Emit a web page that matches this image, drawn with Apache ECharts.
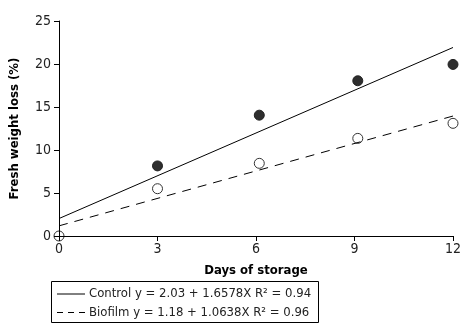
<!DOCTYPE html>
<html>
<head>
<meta charset="utf-8">
<script src="https://cdn.jsdelivr.net/npm/echarts@6/dist/echarts.min.js"></script>
<style>
  html, body { margin: 0; padding: 0; background: #fff; }
  #chart { width: 465px; height: 331px; }
</style>
</head>
<body>
<div id="chart"></div>
<script>
// days of storage
var days = [0, 3, 6.1, 9.1, 12];
// measured points
var controlVals = [null, 8.15, 14.05, 18.05, 19.95];
var biofilmVals = [0, 5.5, 8.45, 11.35, 13.1];
// fitted lines (endpoints at day 0 and 12)
var controlFit = [[0, 2.03], [12, 21.92]];
var biofilmFit = [[0, 1.18], [12, 13.95]];

var controlName = 'Control y = 2.03 + 1.6578X R\u00b2 = 0.94';
var biofilmName = 'Biofilm y = 1.18 + 1.0638X R\u00b2 = 0.96';
var font = '"Liberation Sans Narrow", "DejaVu Sans Condensed", "Liberation Sans", sans-serif';
var ink = '#222';

function pts(vals) {
  var out = [];
  vals.forEach(function (v, i) { if (v !== null) out.push([days[i], v]); });
  return out;
}

var chart = echarts.init(document.getElementById('chart'));
chart.setOption({
  animation: false,
  grid: { left: 52, right: 12, top: 21, bottom: 95 },
  // legend box drawn by hand so the samples are plain lines
  graphic: [
    { type: 'rect', shape: { x: 51.5, y: 281.5, width: 267, height: 41 },
      style: { fill: 'none', stroke: '#000', lineWidth: 1 } },
    { type: 'line', shape: { x1: 57, y1: 294, x2: 85, y2: 294 },
      style: { stroke: '#000', lineWidth: 1 } },
    { type: 'line', shape: { x1: 57, y1: 312.5, x2: 85, y2: 312.5 },
      style: { stroke: '#000', lineWidth: 1, lineDash: [6, 5] } },
    { type: 'text', x: 89, y: 294,
      style: { text: controlName, font: '13px ' + font, fill: ink, textVerticalAlign: 'middle', verticalAlign: 'middle' } },
    { type: 'text', x: 89, y: 312.5,
      style: { text: biofilmName, font: '13px ' + font, fill: ink, textVerticalAlign: 'middle', verticalAlign: 'middle' } }
  ],
  xAxis: {
    type: 'value', min: 0, max: 12, interval: 3, z: 5,
    name: 'Days of storage', nameLocation: 'middle', nameGap: 28,
    nameTextStyle: { fontFamily: font, fontSize: 13, fontWeight: 'bold', color: '#000' },
    axisLine: { lineStyle: { color: '#000', width: 1 } },
    axisTick: { length: 5, lineStyle: { color: '#000' } },
    axisLabel: { fontFamily: font, fontSize: 14, color: ink, margin: 6 },
    splitLine: { show: false }
  },
  yAxis: {
    type: 'value', min: 0, max: 25, interval: 5, z: 5,
    name: 'Fresh weight loss (%)', nameLocation: 'middle', nameGap: 38, nameRotate: 90,
    nameTextStyle: { fontFamily: font, fontSize: 13, fontWeight: 'bold', color: '#000' },
    axisLine: { show: true, lineStyle: { color: '#000', width: 1 } },
    axisTick: { show: true, length: 5, lineStyle: { color: '#000' } },
    axisLabel: { fontFamily: font, fontSize: 14, color: ink, margin: 8 },
    splitLine: { show: false }
  },
  series: [
    {
      name: controlName, type: 'line', data: controlFit,
      symbol: 'none', lineStyle: { color: '#000', width: 1 }
    },
    {
      name: biofilmName, type: 'line', data: biofilmFit,
      symbol: 'none', lineStyle: { color: '#000', width: 1, type: [9, 7] }
    },
    {
      name: 'controlPts', type: 'scatter', data: pts(controlVals),
      symbolSize: 10, itemStyle: { color: '#2e2e2e', borderColor: '#222', borderWidth: 1, opacity: 1 }
    },
    {
      name: 'biofilmPts', type: 'scatter', data: pts(biofilmVals),
      symbolSize: 10, itemStyle: { color: '#fff', borderColor: '#333', borderWidth: 1, opacity: 1 }
    }
  ]
});
</script>
</body>
</html>
